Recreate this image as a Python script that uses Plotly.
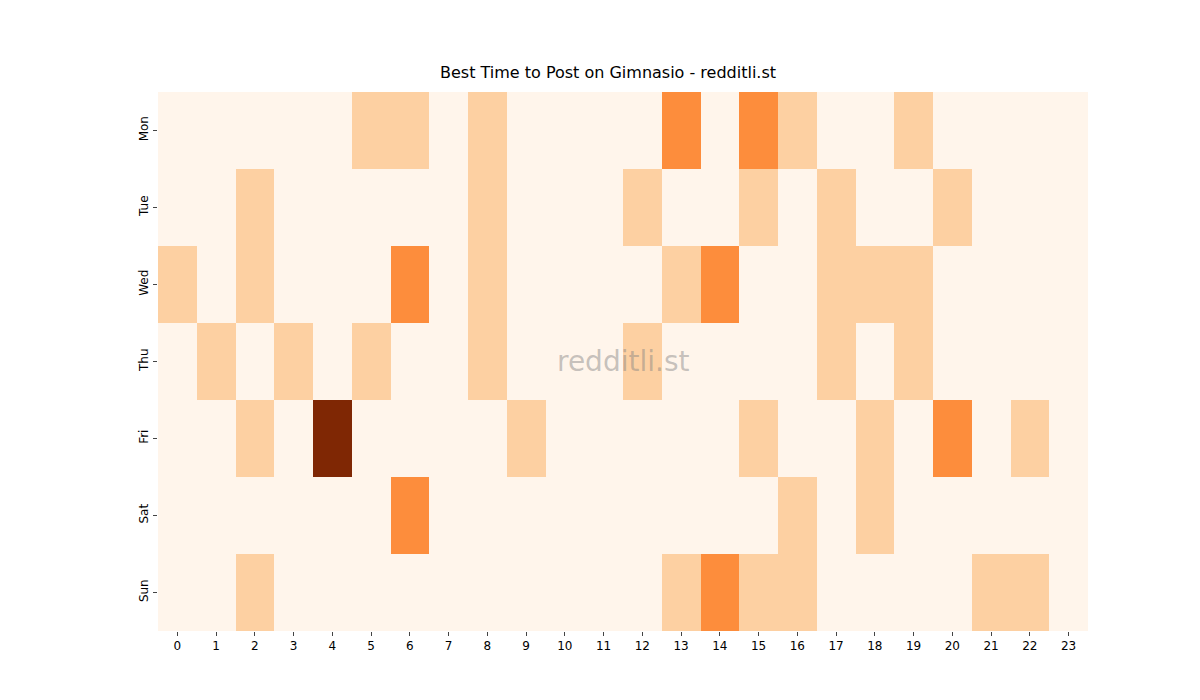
import plotly.graph_objects as go

days = ["Mon", "Tue", "Wed", "Thu", "Fri", "Sat", "Sun"]
hours = list(range(24))

# posts per day/hour
mon = [0,0,0,0,0,1,1,0,1,0,0,0,0,2,0,2,1,0,0,1,0,0,0,0]
tue = [0,0,1,0,0,0,0,0,1,0,0,0,1,0,0,1,0,1,0,0,1,0,0,0]
wed = [1,0,1,0,0,0,2,0,1,0,0,0,0,1,2,0,0,1,1,1,0,0,0,0]
thu = [0,1,0,1,0,1,0,0,1,0,0,0,1,0,0,0,0,1,0,1,0,0,0,0]
fri = [0,0,1,0,4,0,0,0,0,1,0,0,0,0,0,1,0,0,1,0,2,0,1,0]
sat = [0,0,0,0,0,0,2,0,0,0,0,0,0,0,0,0,1,0,1,0,0,0,0,0]
sun = [0,0,1,0,0,0,0,0,0,0,0,0,0,1,2,1,1,0,0,0,0,1,1,0]
z = [mon, tue, wed, thu, fri, sat, sun]

oranges = [[0, "#fff5eb"], [0.125, "#fee6ce"], [0.25, "#fdd0a2"], [0.375, "#fdae6b"],
           [0.5, "#fd8d3c"], [0.625, "#f16913"], [0.75, "#d94801"], [0.875, "#a63603"],
           [1, "#7f2704"]]

fig = go.Figure(go.Heatmap(z=z, x=hours, y=days, colorscale=oranges, zmin=0, zmax=4,
                           showscale=False))

fig.update_layout(
    width=1200, height=700, plot_bgcolor="white", paper_bgcolor="white",
    margin=dict(l=150, r=120, t=84, b=77),
    font=dict(family="DejaVu Sans", size=12, color="black"),
    title=dict(text="Best Time to Post on Gimnasio - redditli.st", x=0.5, xanchor="center",
               y=0.9, yanchor="bottom", font=dict(size=16)),
    annotations=[dict(text="redditli.st", x=0.5, y=0.5, xref="paper", yref="paper",
                      showarrow=False, font=dict(size=28, color="rgba(128,128,128,0.45)"))],
)
fig.update_xaxes(tickmode="array", tickvals=hours, ticks="outside", ticklen=4,
                 showgrid=False, zeroline=False)
fig.update_yaxes(autorange="reversed", tickangle=-90, ticks="outside", ticklen=4,
                 showgrid=False, zeroline=False)

fig.write_html("out.html")
